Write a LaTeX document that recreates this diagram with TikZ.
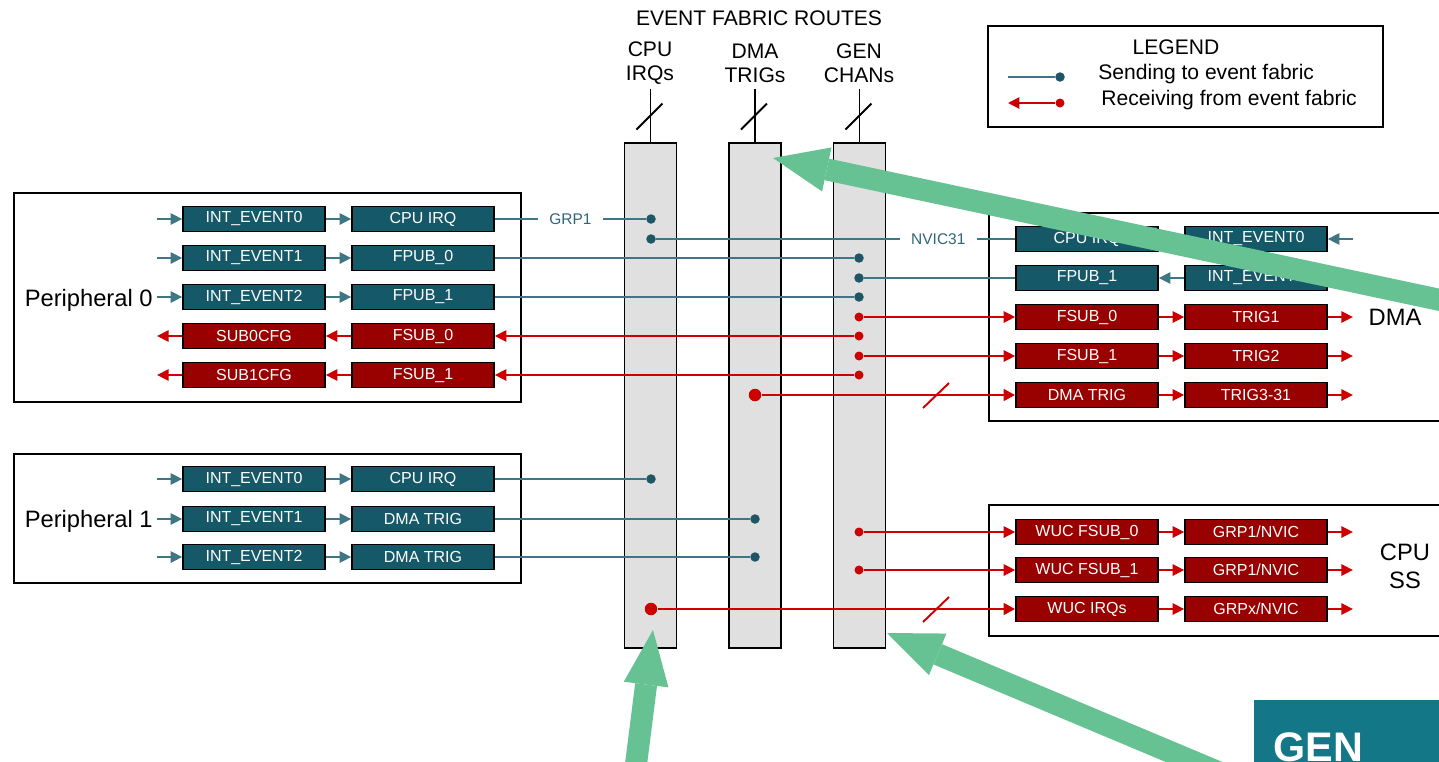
\documentclass[tikz,border=0pt]{standalone}
\usepackage{fontspec}
\setmainfont{Liberation Sans}
\usepackage{tikz}
\usetikzlibrary{calc, arrows.meta}
\definecolor{tealbox}{HTML}{155868}
\definecolor{tealline}{HTML}{3E7683}
\definecolor{tealdot}{HTML}{1E5666}
\definecolor{lbltext}{HTML}{2E6677}
\definecolor{redbox}{HTML}{990000}
\definecolor{redline}{HTML}{CC0000}
\definecolor{routegray}{HTML}{E0E0E0}
\definecolor{arrowgreen}{HTML}{66C293}
\definecolor{genteal}{HTML}{137787}
\tikzset{>=latex}
\tikzset{
  pub/.style = {draw = black, line width = 1pt, fill = tealbox, text = white, minimum width = 2.84cm, minimum height = 0.5cm, inner sep = 0pt, font = \fontsize{9.1}{10}\selectfont},
  sub/.style = {pub, fill = redbox},
  bline/.style = {tealline, line width = 0.8pt},
  rline/.style = {redline, line width = 0.8pt},
  barrow/.style = {bline, -{Triangle[length = 6.5pt, width = 6.5pt]}},
  rarrow/.style = {rline, -{Triangle[length = 6.5pt, width = 6.5pt]}},
  rbus/.style = {redline, line width = 1.6pt, -{Triangle[length = 6.5pt, width = 6.5pt]}},
  bdot/.style = {circle, fill = tealdot, inner sep = 0pt, minimum size = 0.19cm},
  rdot/.style = {circle, fill = redline, inner sep = 0pt, minimum size = 0.18cm},
  bigdot/.style = {rdot, minimum size = 0.25cm},
  route/.style = {draw, line width = 1.1pt, fill = routegray, minimum width = 1.04cm, minimum height = 10.12cm, inner sep = 0pt},
  frame/.style = {draw, line width = 1pt},
  hint/.style = {arrowgreen, line width = 0.44cm, -{Triangle[length = 1.1cm, width = 0.9cm, line width = 0pt]}},
  biglbl/.style = {font = \fontsize{13.5}{16}\selectfont, inner sep = 0pt},
  toplbl/.style = {font = \fontsize{12}{13.6}\selectfont, align = center, inner sep = 0pt},
  buslbl/.style = {text = lbltext, fill = white, font = \fontsize{8.8}{10}\selectfont, inner xsep = 6.5pt, inner ysep = 1pt}
}
\begin{document}
\begin{tikzpicture}[x = 0.02cm, y = -0.02cm]
\useasboundingbox (0,0) rectangle (1439,761);
\clip (0,0) rectangle (1439,761);

% event fabric routes
\node[font = \fontsize{12}{14}\selectfont] (title) at (759,18) {EVENT FABRIC ROUTES};
\node[toplbl] (cpulbl) at (650,63) {CPU\\IRQs};
\node[toplbl] (dmalbl) at (755,63) {DMA\\TRIGs};
\node[toplbl] (genlbl) at (859,63) {GEN\\CHANs};
\node[route] (cpucol) at (650.5,395.5) {};
\node[route] (dmacol) at (755,395.5) {};
\node[route] (gencol) at (859.5,395.5) {};
\foreach \c in {cpu, dma, gen} {
  \draw[line width = 1.1pt] (\c col.north) -- ++(0,-53);
  \draw[line width = 1.1pt] ($(\c col.north)+(-14,-12)$) -- ++(26,-26);
}

% peripheral 0
\draw[frame] (14,193) rectangle (521,402);
\node[pub] (p0ev0) at (254,219) {INT\_EVENT0};
\node[pub] (p0ev1) at (254,258) {INT\_EVENT1};
\node[pub] (p0ev2) at (254,297) {INT\_EVENT2};
\node[sub] (p0cfg0) at (254,336) {SUB0CFG};
\node[sub] (p0cfg1) at (254,375) {SUB1CFG};
\node[pub] (p0irq) at (423,219) {CPU IRQ};
\node[pub] (p0pub0) at (423,258) {FPUB\_0};
\node[pub] (p0pub1) at (423,297) {FPUB\_1};
\node[sub] (p0sub0) at (423,336) {FSUB\_0};
\node[sub] (p0sub1) at (423,375) {FSUB\_1};
\node[biglbl, anchor = base east] (p0lbl) at (153,306) {Peripheral 0};
\foreach \n in {p0ev0, p0ev1, p0ev2}
  \draw[barrow] ($(\n.west)+(-25,0)$) -- (\n.west);
\foreach \n in {p0cfg0, p0cfg1}
  \draw[rarrow] (\n.west) -- ++(-25,0);
\draw[barrow] (p0ev0) -- (p0irq);
\draw[barrow] (p0ev1) -- (p0pub0);
\draw[barrow] (p0ev2) -- (p0pub1);
\draw[rarrow] (p0sub0) -- (p0cfg0);
\draw[rarrow] (p0sub1) -- (p0cfg1);

% peripheral 1
\draw[frame] (14,454) rectangle (521,583);
\node[pub] (p1ev0) at (254,479) {INT\_EVENT0};
\node[pub] (p1ev1) at (254,519) {INT\_EVENT1};
\node[pub] (p1ev2) at (254,557) {INT\_EVENT2};
\node[pub] (p1irq) at (423,479) {CPU IRQ};
\node[pub] (p1dma0) at (423,519) {DMA TRIG};
\node[pub] (p1dma1) at (423,557) {DMA TRIG};
\node[biglbl, anchor = base east] (p1lbl) at (153,527) {Peripheral 1};
\foreach \n in {p1ev0, p1ev1, p1ev2}
  \draw[barrow] ($(\n.west)+(-25,0)$) -- (\n.west);
\draw[barrow] (p1ev0) -- (p1irq);
\draw[barrow] (p1ev1) -- (p1dma0);
\draw[barrow] (p1ev2) -- (p1dma1);

% dma
\draw[frame] (989,213) rectangle (1460,421);
\node[pub] (dirq) at (1087,239) {CPU IRQ};
\node[pub] (dpub1) at (1087,278) {FPUB\_1};
\node[sub] (dsub0) at (1087,317) {FSUB\_0};
\node[sub] (dsub1) at (1087,356) {FSUB\_1};
\node[sub] (ddma) at (1087,395) {DMA TRIG};
\node[pub] (dev0) at (1256,239) {INT\_EVENT0};
\node[pub] (dev1) at (1256,278) {INT\_EVENT1};
\node[sub] (dtrig1) at (1256,317) {TRIG1};
\node[sub] (dtrig2) at (1256,356) {TRIG2};
\node[sub] (dtrig3) at (1256,395) {TRIG3-31};
\node[biglbl, anchor = base] (dmalbl2) at (1395,325) {DMA};
\draw[barrow] ($(dev0.east)+(25,0)$) -- (dev0.east);
\draw[barrow] (dev0) -- (dirq);
\draw[barrow] (dev1) -- (dpub1);
\draw[rarrow] (dsub0) -- (dtrig1);
\draw[rarrow] (dsub1) -- (dtrig2);
\draw[rarrow] (ddma) -- (dtrig3);
\foreach \n in {dtrig1, dtrig2, dtrig3}
  \draw[rarrow] (\n.east) -- ++(25,0);

% cpu ss
\draw[frame] (989,505) rectangle (1460,636);
\node[sub] (wuc0) at (1087,532) {WUC FSUB\_0};
\node[sub] (wuc1) at (1087,570) {WUC FSUB\_1};
\node[sub] (wucirq) at (1087,609) {WUC IRQs};
\node[sub] (grp0) at (1256,532) {GRP1/NVIC};
\node[sub] (grp1) at (1256,570) {GRP1/NVIC};
\node[sub] (grpx) at (1256,609) {GRPx/NVIC};
\node[biglbl, align = center] (cpuss) at (1405,566) {CPU\\SS};
\draw[rarrow] (wuc0) -- (grp0);
\draw[rarrow] (wuc1) -- (grp1);
\draw[rarrow] (wucirq) -- (grpx);
\foreach \n in {grp0, grp1, grpx}
  \draw[rarrow] (\n.east) -- ++(25,0);

% taps on the routes
\node[bdot] (c0) at (651,219) {};
\node[bdot] (c1) at (651,239) {};
\node[bdot] (c2) at (651,479) {};
\node[bigdot] (c3) at (651,609) {};
\node[bigdot] (d0) at (755,395) {};
\node[bdot] (d1) at (755,519) {};
\node[bdot] (d2) at (755,557) {};
\foreach \y [count = \i] in {258, 278, 297}
  \node[bdot] (gb\i) at (859,\y) {};
\foreach \y [count = \i] in {317, 336, 356, 375, 532, 570}
  \node[rdot] (gr\i) at (859,\y) {};

\draw[bline] (p0irq) -- node[buslbl] (grplbl) {GRP1} (c0);
\draw[bline] (dirq) -- node[buslbl, pos = 0.214] (nviclbl) {NVIC31} (c1);
\draw[bline] (p0pub0) -- (gb1);
\draw[bline] (dpub1) -- (gb2);
\draw[bline] (p0pub1) -- (gb3);
\draw[rarrow] (gr1) -- (dsub0);
\draw[rarrow] (gr2) -- (p0sub0);
\draw[rarrow] (gr3) -- (dsub1);
\draw[rarrow] (gr4) -- (p0sub1);
\draw[rarrow] (gr5) -- (wuc0);
\draw[rarrow] (gr6) -- (wuc1);
\draw[bline] (p1irq) -- (c2);
\draw[bline] (p1dma0) -- (d1);
\draw[bline] (p1dma1) -- (d2);
\draw[rbus] (d0) -- (ddma);
\draw[rbus] (c3) -- (wucirq);
\draw[redline, line width = 1.1pt] (923,408) -- (949,383);
\draw[redline, line width = 1.1pt] (923,622) -- (949,597);

% legend
\draw[frame] (988,26) rectangle (1383,127);
\node[font = \fontsize{12}{14}\selectfont] (lgd) at (1176,47) {LEGEND};
\node[bdot] (lgb) at (1060,77) {};
\node[rdot] (lgr) at (1060,103) {};
\coordinate (lgbend) at (1008,77);
\coordinate (lgrend) at (1008,103);
\draw[bline] (lgbend) -- (lgb);
\draw[rarrow] (lgr) -- (lgrend);
\node[anchor = west, inner sep = 0pt, font = \fontsize{12}{14}\selectfont] (lgsend) at (1098,74) {Sending to event fabric};
\node[anchor = west, inner sep = 0pt, font = \fontsize{12}{14}\selectfont] (lgrecv) at (1101,100) {Receiving from event fabric};

% corner tile
\fill[genteal] (1254,700) rectangle (1450,770);
\node[anchor = base west, inner sep = 0pt, text = white, font = \bfseries\fontsize{23.5}{26}\selectfont] (gen) at (1273,761) {GEN};

% green pointers
\draw[hint] (1520,317) -- (773,158);
\draw[hint] (634,780) -- (653,630);
\draw[hint] (1237,780) -- (887,633);
\end{tikzpicture}
\end{document}
